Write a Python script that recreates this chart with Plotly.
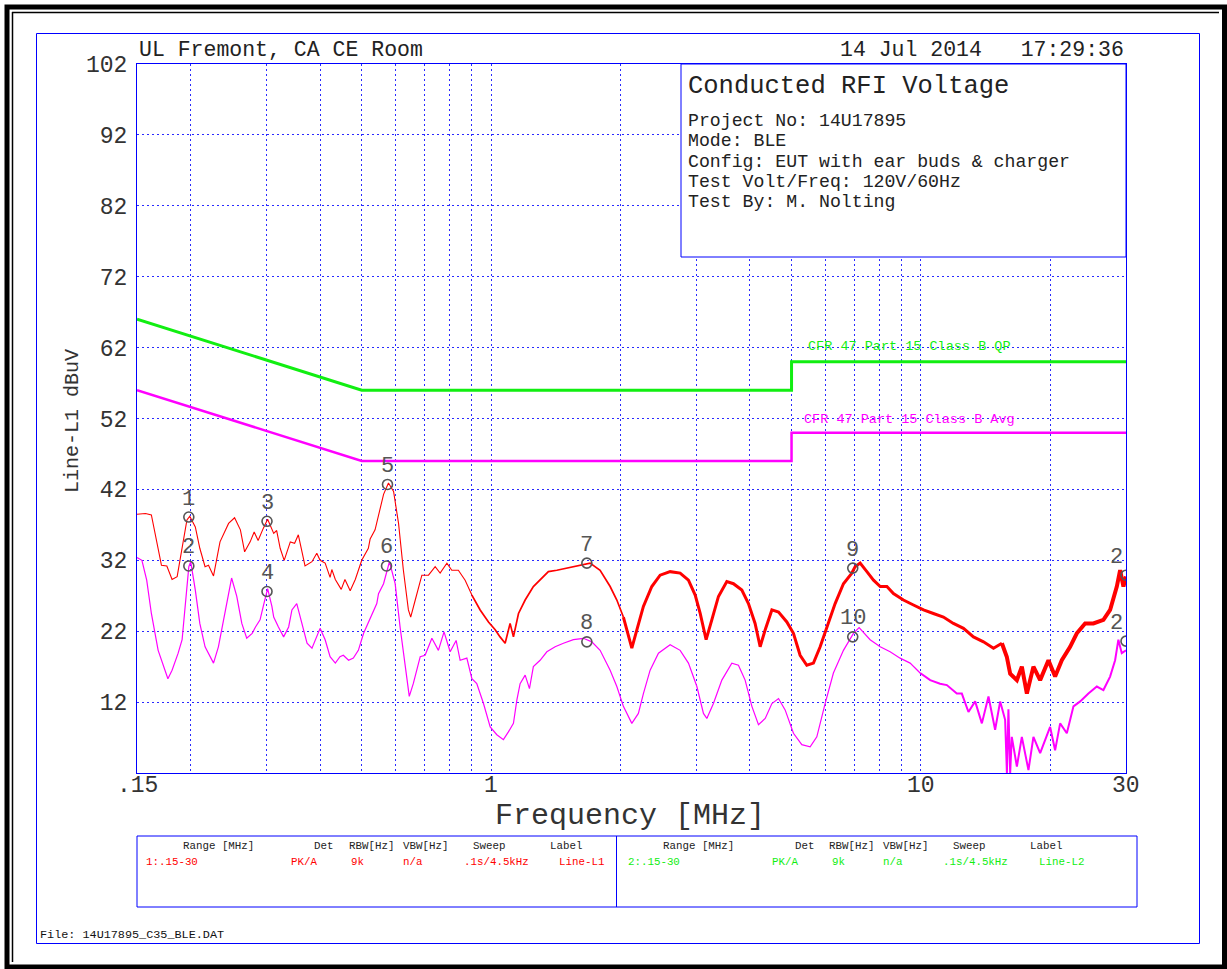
import math
import plotly.graph_objects as go

# ---------------- data ----------------
red_freq = [0.150, 0.157, 0.162, 0.166, 0.171, 0.176, 0.181, 0.186, 0.191, 0.196,
            0.199, 0.205, 0.210, 0.216, 0.220, 0.226, 0.234, 0.245, 0.253, 0.261,
            0.267, 0.275, 0.281, 0.287, 0.295, 0.302, 0.312, 0.317, 0.323, 0.330,
            0.341, 0.349, 0.356, 0.369, 0.383, 0.393, 0.400, 0.411, 0.422, 0.426,
            0.434, 0.448, 0.457, 0.470, 0.483, 0.500, 0.518, 0.523, 0.537, 0.547,
            0.556, 0.562, 0.577, 0.593, 0.609, 0.625, 0.642, 0.650, 0.666, 0.690,
            0.715, 0.741, 0.761, 0.789, 0.810, 0.839, 0.870, 0.902, 0.943, 0.986,
            1.022, 1.049, 1.078, 1.107, 1.127, 1.158, 1.200, 1.254, 1.300, 1.359,
            1.422, 1.500, 1.583, 1.670, 1.699, 1.793, 1.892, 1.961, 2.031, 2.086,
            2.125, 2.183, 2.261, 2.365, 2.473, 2.609, 2.753, 2.878, 2.984, 3.065,
            3.164, 3.262, 3.380, 3.535, 3.663, 3.831, 3.969, 4.113, 4.226, 4.342,
            4.500, 4.663, 4.875, 5.051, 5.235, 5.426, 5.622, 5.828, 6.040, 6.315,
            6.603, 6.906, 7.029, 7.220, 7.486, 7.757, 8.040, 8.333, 8.630, 9.105,
            9.607, 10.14, 10.69, 11.28, 11.90, 12.56, 13.25, 13.98, 14.75, 15.43,
            15.84, 16.13, 16.72, 17.17, 17.64, 18.27, 18.94, 19.80, 20.52, 21.27,
            22.24, 23.05, 24.10, 25.19, 26.58, 27.55, 28.56, 29.07, 29.59, 30.0]
red_level = [38.5, 38.6, 38.4, 35.3, 31.3, 31.2, 29.3, 29.7, 33.9, 37.7,
             38.2, 36.7, 33.7, 31.1, 31.3, 29.8, 34.6, 37.2, 38.0, 36.3,
             33.2, 34.6, 36.0, 34.8, 36.5, 37.8, 35.8, 36.2, 33.7, 32.0,
             34.6, 34.4, 35.6, 31.2, 31.8, 33.0, 32.0, 31.6, 29.6, 30.7,
             29.3, 27.9, 29.3, 27.7, 29.3, 32.0, 33.7, 35.0, 36.3, 38.2,
             40.3, 41.3, 42.9, 41.7, 37.2, 30.6, 25.0, 24.0, 26.4, 29.9,
             29.9, 31.1, 30.2, 31.6, 30.6, 30.6, 29.2, 27.1, 25.0, 23.3,
             22.2, 21.2, 20.3, 23.1, 21.2, 24.5, 26.4, 28.3, 29.2, 30.4,
             30.6, 30.9, 31.3, 31.6, 31.6, 30.6, 28.3, 26.4, 24.0, 21.2,
             19.6, 22.2, 25.5, 28.3, 29.9, 30.4, 30.2, 29.2, 27.1, 24.5,
             20.8, 23.6, 26.9, 29.0, 28.7, 27.8, 25.9, 23.1, 19.8, 22.2,
             25.0, 24.7, 23.3, 21.7, 18.6, 17.2, 17.5, 19.8, 22.6, 25.9,
             28.7, 30.2, 31.1, 31.6, 30.4, 29.2, 28.3, 28.3, 27.3, 26.4,
             25.7, 25.0, 24.5, 24.0, 23.1, 22.4, 21.2, 20.5, 19.6, 20.3,
             18.4, 16.0, 15.1, 17.0, 13.2, 17.0, 15.1, 17.9, 15.6, 17.9,
             19.8, 21.7, 23.1, 23.1, 23.6, 25.0, 28.3, 30.6, 28.3, 29.7]

avg_freq = [0.150, 0.154, 0.158, 0.162, 0.168, 0.177, 0.181, 0.187, 0.191, 0.194,
            0.198, 0.200, 0.205, 0.210, 0.216, 0.226, 0.232, 0.241, 0.249, 0.256,
            0.263, 0.270, 0.278, 0.283, 0.290, 0.295, 0.302, 0.309, 0.312, 0.320,
            0.329, 0.338, 0.344, 0.353, 0.363, 0.373, 0.383, 0.393, 0.400, 0.411,
            0.422, 0.434, 0.445, 0.453, 0.466, 0.478, 0.491, 0.505, 0.523, 0.532,
            0.542, 0.547, 0.562, 0.580, 0.598, 0.614, 0.631, 0.645, 0.659, 0.684,
            0.702, 0.728, 0.754, 0.777, 0.803, 0.829, 0.847, 0.878, 0.902, 0.926,
            0.960, 0.995, 1.031, 1.068, 1.097, 1.127, 1.148, 1.168, 1.200, 1.228,
            1.254, 1.300, 1.348, 1.409, 1.473, 1.554, 1.640, 1.715, 1.793, 1.892,
            1.961, 2.031, 2.125, 2.201, 2.261, 2.344, 2.451, 2.609, 2.753, 2.878,
            3.011, 3.119, 3.176, 3.290, 3.442, 3.631, 3.762, 3.899, 4.043, 4.188,
            4.342, 4.500, 4.663, 4.831, 5.051, 5.283, 5.524, 5.725, 5.985, 6.257,
            6.603, 6.965, 7.180, 7.617, 8.040, 8.478, 8.944, 9.438, 9.956, 10.51,
            11.08, 11.49, 12.12, 12.45, 12.90, 13.37, 13.86, 14.36, 14.88, 15.29,
            15.70, 15.85, 15.98, 16.13, 16.27, 16.72, 17.17, 17.79, 18.27, 18.94,
            19.98, 20.52, 21.08, 21.85, 22.64, 23.47, 24.53, 25.66, 26.58, 27.55,
            28.30, 28.80, 29.33, 30.0]
avg_level = [32.4, 32.0, 29.2, 24.5, 19.3, 15.3, 16.5, 18.9, 20.8, 25.5,
             31.1, 31.8, 27.8, 23.1, 19.8, 17.5, 19.8, 25.0, 29.5, 26.9,
             23.1, 21.0, 21.7, 22.6, 23.6, 25.5, 28.0, 25.5, 24.0, 22.6,
             21.2, 22.6, 25.0, 25.9, 23.1, 20.3, 19.6, 21.2, 22.4, 20.8,
             18.4, 17.5, 18.4, 18.6, 17.9, 18.2, 19.3, 21.7, 23.8, 25.0,
             25.9, 27.3, 28.7, 31.8, 28.7, 22.6, 17.0, 12.8, 14.6, 18.4,
             18.6, 21.0, 19.3, 21.9, 19.1, 20.7, 17.9, 18.2, 15.3, 14.6,
             11.8, 8.5, 7.4, 6.7, 7.8, 9.0, 12.3, 14.6, 15.8, 13.9,
             17.0, 17.9, 19.1, 19.8, 20.3, 20.8, 21.0, 20.5, 19.3, 16.5,
             14.2, 11.4, 9.0, 10.4, 13.2, 16.5, 18.9, 20.1, 19.3, 17.5,
             14.2, 10.4, 9.7, 11.8, 15.1, 17.5, 17.2, 15.1, 11.4, 8.8,
             9.7, 11.8, 12.5, 10.9, 7.6, 6.0, 5.7, 7.1, 11.8, 16.1,
             19.3, 21.7, 22.5, 20.8, 19.8, 19.1, 18.2, 17.5, 16.1, 15.1,
             14.6, 14.4, 13.2, 13.2, 10.6, 12.1, 9.0, 12.8, 8.1, 12.1,
             9.5, 2.0, 11.0, 2.0, 7.1, 2.9, 7.1, 2.4, 7.1, 4.8,
             8.5, 5.2, 9.0, 7.6, 11.4, 12.1, 13.2, 14.2, 13.7, 15.6,
             17.9, 20.8, 18.9, 19.3]

qp_limit_freq = [0.15, 0.5, 5.0, 5.0, 30.0]
qp_limit_level = [66, 56, 56, 60, 60]
avg_limit_freq = [0.15, 0.5, 5.0, 5.0, 30.0]
avg_limit_level = [56, 46, 46, 50, 50]

marker_labels = ["1", "2", "3", "4", "5", "6", "7", "8", "9", "10", "2", "2"]
marker_freq = [0.198, 0.198, 0.301, 0.301, 0.574, 0.571, 1.67, 1.67, 6.94, 6.94, 30.0, 30.0]
marker_level = [38.1, 31.2, 37.5, 27.6, 42.7, 31.2, 31.6, 20.5, 30.9, 21.2, 29.9, 20.6]

x_tick_vals = [0.15, 0.2, 0.3, 0.4, 0.5, 0.6, 0.7, 0.8, 0.9, 1, 2, 3, 4, 5, 6, 7, 8, 9, 10, 20, 30]
x_tick_text = [".15", "", "", "", "", "", "", "", "", "1", "", "", "", "", "", "", "", "", "10", "", "30"]
y_tick_vals = [12, 22, 32, 42, 52, 62, 72, 82, 92, 102]

info_lines = ["Project No: 14U17895", "Mode: BLE", "Config: EUT with ear buds & charger",
              "Test Volt/Freq: 120V/60Hz", "Test By: M. Nolting"]
table_header = ["Range [MHz]", "Det", "RBW[Hz]", "VBW[Hz]", "Sweep", "Label"]
table_row1 = ["1:.15-30", "PK/A", "9k", "n/a", ".1s/4.5kHz", "Line-L1"]
table_row2 = ["2:.15-30", "PK/A", "9k", "n/a", ".1s/4.5kHz", "Line-L2"]

# ---------------- layout helpers ----------------
W, H = 1227, 969
L, R, T, B = 137, 1126, 64, 773
MONO = "Liberation Mono, DejaVu Sans Mono, monospace"
BLUE = "#0000ff"
GRID = "#2a2aff"
RED = "#ff0000"
MAG = "#ff00ff"
GRN = "#11ee11"
TXT = "#333333"
MK = "#555555"


def px(x):
    return (x - L) / (R - L)


def py(y):
    return (B - y) / (B - T)


def segment(fr, lv, lo, hi):
    pts = [(f, v) for f, v in zip(fr, lv) if lo <= f <= hi]
    return [p[0] for p in pts], [p[1] for p in pts]


fig = go.Figure()

# limit lines
fig.add_trace(go.Scatter(x=qp_limit_freq, y=qp_limit_level, mode="lines",
                         line=dict(color=GRN, width=3)))
fig.add_trace(go.Scatter(x=avg_limit_freq, y=avg_limit_level, mode="lines",
                         line=dict(color=MAG, width=2.5)))

# average (magenta) trace
for lo, hi, w in [(0.15, 9.956, 1.2), (9.956, 30.0, 2.0)]:
    fx, fy = segment(avg_freq, avg_level, lo, hi)
    fig.add_trace(go.Scatter(x=fx, y=fy, mode="lines", line=dict(color=MAG, width=w)))

# peak (red) trace
for lo, hi, w in [(0.15, 0.902, 1.1), (0.902, 2.031, 1.7), (2.031, 15.43, 3.0), (15.43, 30.0, 4.0)]:
    fx, fy = segment(red_freq, red_level, lo, hi)
    fig.add_trace(go.Scatter(x=fx, y=fy, mode="lines", line=dict(color=RED, width=w)))

# marker circles
fig.add_trace(go.Scatter(x=marker_freq, y=marker_level, mode="markers", cliponaxis=True,
                         marker=dict(symbol="circle-open", size=10, color=MK,
                                     line=dict(color=MK, width=1.6))))

annotations = []
for lab, f, v in zip(marker_labels, marker_freq, marker_level):
    right = f >= 30
    annotations.append(dict(x=math.log10(f), y=v, xref="x", yref="y", text=lab, showarrow=False,
                            xanchor="right" if right else "center", yanchor="middle",
                            xshift=-1 if right else 0, yshift=18,
                            font=dict(family=MONO, size=22, color=MK)))

# x tick labels placed at their axis values
for v, s in zip(x_tick_vals, x_tick_text):
    if s:
        annotations.append(dict(x=math.log10(v), y=py(786), xref="x", yref="paper", text=s,
                                showarrow=False, xanchor="center", yanchor="middle",
                                font=dict(family=MONO, size=23, color=TXT)))


def txt(x, y, s, size, color="#222222", xanchor="left", yanchor="middle", angle=0):
    annotations.append(dict(x=px(x), y=py(y), xref="paper", yref="paper", text=s, showarrow=False,
                            xanchor=xanchor, yanchor=yanchor, textangle=angle,
                            font=dict(family=MONO, size=size, color=color)))


txt(137, 50, "UL Fremont, CA CE Room", 21.5)
txt(1126, 50, "14 Jul 2014   17:29:36", 21.5, xanchor="right")
txt(686, 87, "Conducted RFI Voltage", 25.5)
for i, line in enumerate(info_lines):
    txt(686, 121 + i * 20.3, line, 18.2)
txt(806, 346, "CFR 47 Part 15 Class B QP", 13.5, color=GRN)
txt(802, 419, "CFR 47 Part 15 Class B Avg", 13.5, color=MAG)
txt(630, 816, "Frequency [MHz]", 30, color=TXT, xanchor="center")
txt(72, 421, "Line-L1 dBuV", 20, color=TXT, xanchor="center", angle=-90)

hdr_left = [181, 312, 347, 401, 471, 548]
hdr_right = [661, 793, 827, 881, 951, 1028]
row_left = [144, 289, 349, 401, 462, 557]
row_right = [626, 770, 830, 881, 941, 1037]
for s, x in zip(table_header, hdr_left):
    txt(x, 846, s, 10.8)
for s, x in zip(table_header, hdr_right):
    txt(x, 846, s, 10.8)
for s, x in zip(table_row1, row_left):
    txt(x, 862, s, 10.8, color=RED)
for s, x in zip(table_row2, row_right):
    txt(x, 862, s, 10.8, color=GRN)
txt(38, 935, "File: 14U17895_C35_BLE.DAT", 11.8, color="#111111")

shapes = [
    # info box (white, covers grid)
    dict(type="rect", xref="paper", yref="paper", x0=px(681), x1=px(1126), y0=py(257), y1=py(64),
         line=dict(color=BLUE, width=1), fillcolor="white", layer="above"),
    # outer blue frame
    dict(type="rect", xref="paper", yref="paper", x0=px(36.5), x1=px(1199.5), y0=py(943.5), y1=py(33.5),
         line=dict(color=BLUE, width=1)),
    # bottom table
    dict(type="rect", xref="paper", yref="paper", x0=px(137), x1=px(1137), y0=py(907), y1=py(836),
         line=dict(color=BLUE, width=1)),
    dict(type="line", xref="paper", yref="paper", x0=px(616.5), x1=px(616.5), y0=py(907), y1=py(836),
         line=dict(color=BLUE, width=1)),
    # black page border
    dict(type="rect", xref="paper", yref="paper", x0=px(7), x1=px(1224.5), y0=py(967), y1=py(7),
         line=dict(color="black", width=5)),
    dict(type="line", xref="paper", yref="paper", x0=px(12), x1=px(1219), y0=py(12.5), y1=py(12.5),
         line=dict(color="black", width=1.5)),
    dict(type="line", xref="paper", yref="paper", x0=px(12.5), x1=px(12.5), y0=py(12), y1=py(962),
         line=dict(color="black", width=1.5)),
]

fig.update_layout(
    width=W, height=H,
    margin=dict(l=L, r=W - R, t=T, b=H - B, pad=0),
    paper_bgcolor="white", plot_bgcolor="white",
    showlegend=False,
    annotations=annotations,
    shapes=shapes,
    hovermode=False,
)
fig.update_xaxes(type="log", range=[math.log10(0.15), math.log10(30)],
                 tickmode="array", tickvals=x_tick_vals, ticktext=x_tick_text,
                 showticklabels=False,
                 showgrid=True, gridcolor=GRID, griddash="2px,3px", gridwidth=1,
                 showline=True, linecolor=BLUE, linewidth=1, mirror=True,
                 ticks="", zeroline=False)
fig.update_yaxes(range=[2, 102], tickmode="array", tickvals=y_tick_vals,
                 showgrid=True, gridcolor=GRID, griddash="2px,3px", gridwidth=1,
                 showline=True, linecolor=BLUE, linewidth=1, mirror=True,
                 ticks="", zeroline=False, ticklabelstandoff=4,
                 tickfont=dict(family=MONO, size=23, color=TXT))

fig.write_html("out.html", config={"displayModeBar": False},
               post_script="document.body.style.margin='0';document.body.style.overflow='hidden';")
